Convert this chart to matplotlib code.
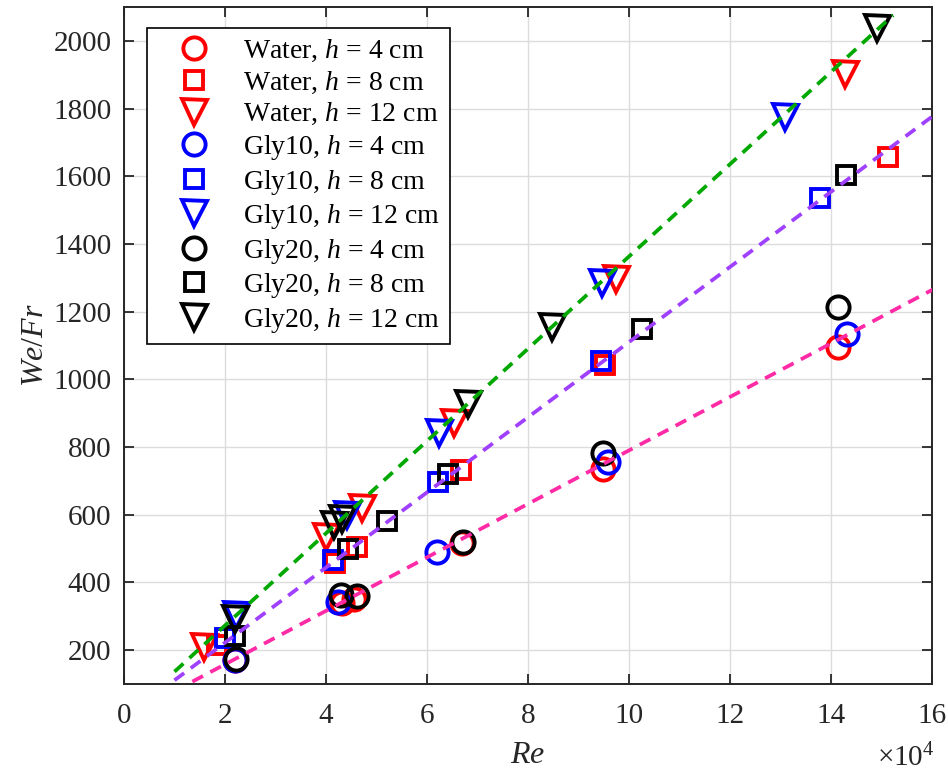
import matplotlib
matplotlib.use("Agg")
from matplotlib import pyplot as plt

plt.rcParams['font.family'] = ['Liberation Serif', 'DejaVu Serif']
plt.rcParams['mathtext.fontset'] = 'custom'
plt.rcParams['mathtext.rm'] = 'Liberation Serif'
plt.rcParams['mathtext.it'] = 'Liberation Serif:italic'

# Re in units of 1e4
re_water_h4 = [2.20, 4.32, 4.55, 6.70, 9.49, 14.14]
wf_water_h4 = [170, 339, 352, 515, 735, 1097]
re_water_h8 = [1.85, 4.18, 4.61, 6.67, 9.52, 15.13]
wf_water_h8 = [215, 457, 504, 732, 1041, 1658]
re_water_h12 = [1.58, 4.00, 4.71, 6.53, 9.74, 14.28]
wf_water_h12 = [209, 534, 619, 870, 1295, 1903]

re_gly10_h4 = [2.20, 4.24, 6.20, 9.58, 14.32]
wf_gly10_h4 = [172, 342, 490, 755, 1133]
re_gly10_h8 = [2.00, 4.14, 6.22, 9.45, 13.78]
wf_gly10_h8 = [235, 466, 696, 1053, 1537]
re_gly10_h12 = [2.22, 4.42, 6.24, 9.47, 13.09]
wf_gly10_h12 = [303, 600, 841, 1286, 1776]

re_gly20_h4 = [2.22, 4.30, 4.61, 6.71, 9.49, 14.14]
wf_gly20_h4 = [174, 363, 360, 519, 782, 1215]
re_gly20_h8 = [2.20, 4.44, 5.21, 6.42, 10.26, 14.30]
wf_gly20_h8 = [242, 498, 581, 720, 1150, 1605]
re_gly20_h12 = [2.20, 4.16, 4.32, 6.81, 8.48, 14.91]
wf_gly20_h12 = [292, 569, 587, 926, 1156, 2038]

# linear fits  We/Fr = k * Re(1e4)
fit_slopes = [136.3, 111.0, 79.0]
fit_colors = ['#00a800', '#a040ff', '#ff2aa5']
fit_ranges = [[1.0, 15.23], [1.0, 16.5], [1.0, 16.5]]

series = [
    (re_water_h4, wf_water_h4, 'o', 'red', r'Water, $h$ = 4 cm'),
    (re_water_h8, wf_water_h8, 's', 'red', r'Water, $h$ = 8 cm'),
    (re_water_h12, wf_water_h12, 'v', 'red', r'Water, $h$ = 12 cm'),
    (re_gly10_h4, wf_gly10_h4, 'o', 'blue', r'Gly10, $h$ = 4 cm'),
    (re_gly10_h8, wf_gly10_h8, 's', 'blue', r'Gly10, $h$ = 8 cm'),
    (re_gly10_h12, wf_gly10_h12, 'v', 'blue', r'Gly10, $h$ = 12 cm'),
    (re_gly20_h4, wf_gly20_h4, 'o', 'black', r'Gly20, $h$ = 4 cm'),
    (re_gly20_h8, wf_gly20_h8, 's', 'black', r'Gly20, $h$ = 8 cm'),
    (re_gly20_h12, wf_gly20_h12, 'v', 'black', r'Gly20, $h$ = 12 cm'),
]
msizes = {'o': 16, 's': 12.5, 'v': 18}

fig = plt.figure(figsize=(9.48, 7.79), dpi=100)
ax = fig.add_axes([0.1308, 0.122, 0.8523, 0.869])

for x, y, m, c, lab in series:
    ax.plot(x, y, linestyle='none', marker=m, markersize=msizes[m],
            markerfacecolor='none', markeredgecolor=c, markeredgewidth=2.8,
            label=lab, zorder=3)

for k, c, xs in zip(fit_slopes, fit_colors, fit_ranges):
    ys = [k * v for v in xs]
    ax.plot(xs, ys, color=c, linewidth=2.7, dashes=(3.2, 2.2), zorder=4)

ax.set_xlim(0, 16)
ax.set_ylim(100, 2100)
ax.set_xticks(range(0, 17, 2))
ax.set_yticks(range(200, 2001, 200))
ax.grid(True, color='#dcdcdc', linewidth=1.0, zorder=0)
ax.set_axisbelow(True)
ax.tick_params(direction='in', top=True, right=True, length=7, width=1.3,
               labelsize=21, colors='#262626')
ax.tick_params(axis='x', pad=14)
ax.tick_params(axis='y', pad=9)
for s in ax.spines.values():
    s.set_linewidth(1.4)
    s.set_color('#262626')

ax.set_xlabel(r'$Re$', fontsize=23, color='#262626', labelpad=8)
ax.set_ylabel(r'$We/Fr$', fontsize=23, color='#262626', labelpad=2)
fig.text(0.955, 0.008, r'$\times10^4$', fontsize=21, color='#262626',
         ha='center', va='bottom')

leg = ax.legend(loc='upper left', bbox_to_anchor=(0.0285, 0.969),
                borderaxespad=0, numpoints=1, fontsize=20, handlelength=2.7,
                handletextpad=0.4, borderpad=0.35, labelspacing=0.2,
                fancybox=False, framealpha=1, edgecolor='black')
leg.get_frame().set_linewidth(1.2)

fig.savefig('out.png', dpi=100)
